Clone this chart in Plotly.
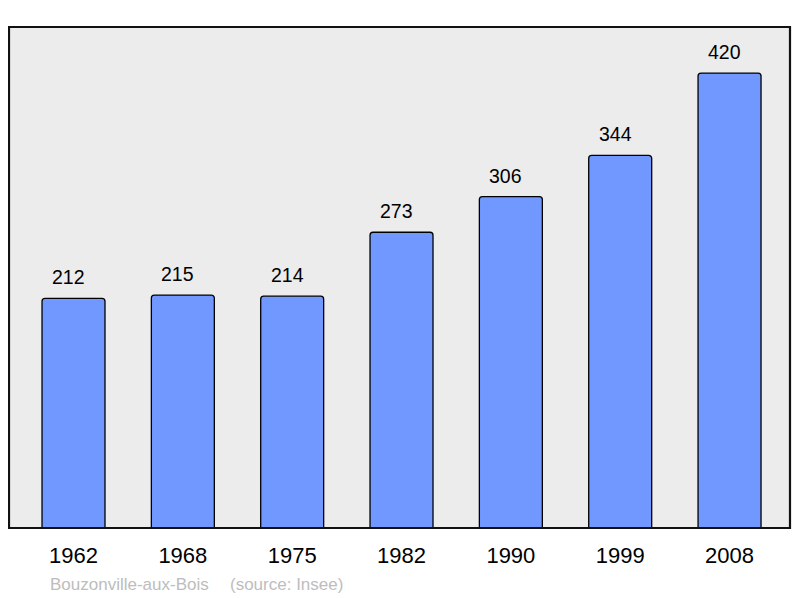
import plotly.graph_objects as go

years = ["1962", "1968", "1975", "1982", "1990", "1999", "2008"]
population = [212, 215, 214, 273, 306, 344, 420]
commune = "Bouzonville-aux-Bois"
source = "(source: Insee)"

# page body has an 8px margin; compensate so the plot lands at page x 9..790, y 27..528
OFF = 8
W, H = 792, 590
L, R, T, B = 9 - OFF, 10, 27 - OFF, 70
pw = W - L - R
ph = H - T - B

xs = list(range(len(years)))
FONT = "Liberation Sans, Arial, sans-serif"

fig = go.Figure()
fig.add_trace(go.Bar(
    x=xs, y=population, width=0.576,
    marker=dict(color="#7098ff", line=dict(color="#000000", width=1.3), cornerradius=3),
    hoverinfo="skip",
))

for xi, v in zip(xs, population):
    fig.add_annotation(x=xi, y=v, text=str(v), showarrow=False, yanchor="bottom",
                       yshift=8, xshift=-5, font=dict(size=19.5, color="#000000", family=FONT))

foot_y = -(584 - 528) / ph
fig.add_annotation(xref="paper", yref="paper", x=(48 - 9) / pw, y=foot_y,
                   xanchor="left", yanchor="middle", showarrow=False, text=commune,
                   font=dict(size=17, color="#bdbdbd", family=FONT))
fig.add_annotation(xref="paper", yref="paper", x=(228 - 9) / pw, y=foot_y,
                   xanchor="left", yanchor="middle", showarrow=False, text=source,
                   font=dict(size=17, color="#bdbdbd", family=FONT))

fig.add_shape(type="rect", xref="paper", yref="paper", x0=0, x1=1, y0=0, y1=1,
              line=dict(color="#111111", width=2.2), layer="above")

fig.update_layout(
    width=W, height=H,
    margin=dict(l=L, r=R, t=T, b=B, pad=0),
    paper_bgcolor="#ffffff", plot_bgcolor="#ececec",
    showlegend=False,
    font=dict(family=FONT, color="#000000"),
    xaxis=dict(range=[-0.59, 6.553], tickmode="array", tickvals=xs, ticktext=years,
               showgrid=False, zeroline=False, ticks="outside", ticklen=8,
               tickcolor="rgba(0,0,0,0)", tickfont=dict(size=22, color="#000000"),
               fixedrange=True),
    yaxis=dict(range=[0, 462.5], showgrid=False, zeroline=False, showticklabels=False,
               fixedrange=True),
)

fig.write_html("out.html")
